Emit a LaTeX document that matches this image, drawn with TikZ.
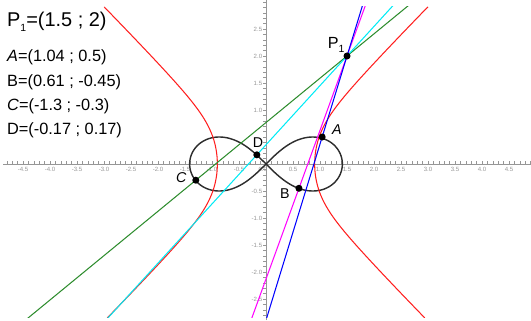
\documentclass[tikz,border=0pt]{standalone}
\usepackage{fontspec}
\setmainfont{Liberation Sans}
\usetikzlibrary{positioning, calc}
\definecolor{axisgray}{RGB}{150,150,150}
\definecolor{lemngray}{RGB}{45,45,45}
\definecolor{tangreen}{RGB}{45,140,45}
\definecolor{tancyan}{RGB}{0,235,245}
\definecolor{tanmagenta}{RGB}{255,0,255}
\definecolor{tanblue}{RGB}{0,0,255}
\definecolor{curvered}{RGB}{255,30,30}
\newcommand{\lowidx}[1]{\raisebox{-0.5ex}{\fontsize{5.5}{6}\selectfont #1}}

\begin{document}
\begin{tikzpicture}[x=1cm, y=1cm,
        axis/.style={draw=axisgray, line width=0.4pt},
        tck/.style={draw=axisgray, line width=0.3pt},
        ticklbl/.style={font=\fontsize{3.2}{3.2}\selectfont, text=axisgray, inner sep=0.4pt},
        curve/.style={line width=0.55pt},
        pt/.style={circle, fill=black, inner sep=0pt, minimum size=3.7pt},
        ptlbl/.style={font=\fontsize{7.5}{8}\selectfont, inner sep=0pt},
        info/.style={anchor=west, font=\fontsize{8.6}{10}\selectfont, inner sep=0pt},
    ]
    \useasboundingbox (-4.926,-2.889) rectangle (4.907,3.037);

    % ---- Axes with ticks and labels ----
    \draw[axis] (-4.87,0) -- (4.907,0);
    \draw[axis] (0,-2.889) -- (0,3.037);
    \foreach \i in {-48,...,49} \draw[tck] (\i/10,0) -- (\i/10,0.05);
    \foreach \i in {-28,...,30} \draw[tck] (0,\i/10) -- (-0.05,\i/10);
    \foreach \v in {-4.5,-4.0,-3.5,-3.0,-2.5,-2.0,-1.5,-1.0,-0.5,0.5,1.0,1.5,2.0,2.5,3.0,3.5,4.0,4.5}
        \node[ticklbl, anchor=north] at (\v,-0.04) {\v};
    \foreach \v in {-2.5,-2.0,-1.5,-1.0,-0.5,1.0,1.5,2.0,2.5}
        \node[ticklbl, anchor=east] at (-0.05,\v) {\v};
    \node[ticklbl, anchor=north] (orig) at (-0.06,-0.04) {0.0};

    % ---- Points ----
    \coordinate (P1) at (1.5,2);
    \coordinate (A) at (1.04,0.5);
    \coordinate (B) at (0.61,-0.45);
    \coordinate (C) at (-1.3,-0.3);
    \coordinate (D) at (-0.17,0.17);

    % ---- Lemniscate ----
    \draw[curve, lemngray, line width=0.75pt] plot[domain=0:360, samples=240, smooth]
        ({sqrt(2)*cos(\x)/(1+sin(\x)^2)}, {sqrt(2)*sin(\x)*cos(\x)/(1+sin(\x)^2)});

    % ---- Red curve and tangents through P1 ----
    \begin{scope}
        \clip (-4.926,-2.85) rectangle (4.907,2.91);
        \draw[curve, curvered] plot[domain=-2.85:2.91, samples=120, smooth, variable=\t]
            ({sqrt(0.52+\t*\t)+0.18*exp(-\t*\t/0.48)}, {\t});
        \draw[curve, curvered] plot[domain=-2.85:2.91, samples=120, smooth, variable=\t]
            ({-sqrt(0.52+\t*\t)-0.18*exp(-\t*\t/0.48)}, {\t});
        \draw[curve, tangreen] ($(P1)!-1!(C)$) -- ($(P1)!4!(C)$);
        \draw[curve, tancyan] ($(P1)!-1!(D)$) -- ($(P1)!4!(D)$);
        \draw[curve, tanmagenta] ($(P1)!-1!(B)$) -- ($(P1)!4!(B)$);
        \draw[curve, tanblue] ($(P1)!-1!(A)$) -- ($(P1)!4!(A)$);
    \end{scope}

    \node[pt] (p1dot) at (P1) {};
    \node[pt] (adot) at (A) {};
    \node[pt] (bdot) at (B) {};
    \node[pt] (cdot) at (C) {};
    \node[pt] (ddot) at (D) {};

    \node[ptlbl, font=\fontsize{8.5}{9}\selectfont] (p1lbl) at ($(P1)+(-0.2,0.2)$) {P\lowidx{1}};
    \node[ptlbl] (albl) at ($(A)+(0.27,0.13)$) {\textit{A}};
    \node[ptlbl] (blbl) at ($(B)+(-0.26,-0.09)$) {B};
    \node[ptlbl] (clbl) at ($(C)+(-0.27,0.04)$) {\textit{C}};
    \node[ptlbl] (dlbl) at ($(D)+(0.02,0.22)$) {D};

    % ---- Coordinates text ----
    \node[info, font=\fontsize{10.5}{12}\selectfont] (p1txt) at (-4.80,2.63) {P\lowidx{1}=(1.5 ; 2)};
    \node[info] (atxt) at (-4.80,1.98) {\textit{A}=(1.04 ; 0.5)};
    \node[info] (btxt) at (-4.80,1.52) {B=(0.61 ; -0.45)};
    \node[info] (ctxt) at (-4.80,1.07) {\textit{C}=(-1.3 ; -0.3)};
    \node[info] (dtxt) at (-4.80,0.63) {D=(-0.17 ; 0.17)};

\end{tikzpicture}
\end{document}
